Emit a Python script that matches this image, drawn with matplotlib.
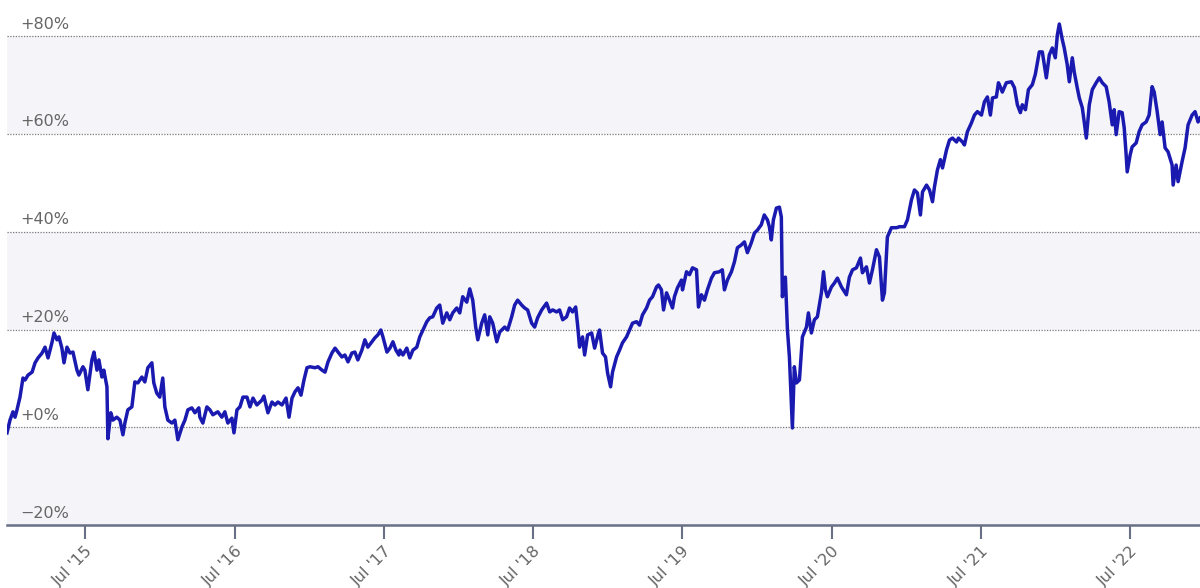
import numpy as np
import pandas as pd
import matplotlib
matplotlib.use("Agg")
import matplotlib.pyplot as plt
import matplotlib.dates as mdates
import matplotlib.transforms as mtransforms

# dates as fractional years, cumulative return in percent
years = [
    2014.971, 2014.991, 2015.011, 2015.025, 2015.038, 2015.058, 2015.078, 2015.092, 2015.112, 2015.139,
    2015.159, 2015.179, 2015.206, 2015.226, 2015.246, 2015.272, 2015.286, 2015.306, 2015.319, 2015.339,
    2015.353, 2015.373, 2015.393, 2015.413, 2015.440, 2015.453, 2015.480, 2015.493, 2015.513, 2015.540,
    2015.554, 2015.574, 2015.587, 2015.607, 2015.620, 2015.641, 2015.647, 2015.667, 2015.681, 2015.707,
    2015.728, 2015.748, 2015.761, 2015.781, 2015.808, 2015.828, 2015.848, 2015.875, 2015.895, 2015.915,
    2015.942, 2015.955, 2015.975, 2015.995, 2016.015, 2016.029, 2016.049, 2016.076, 2016.096, 2016.116,
    2016.143, 2016.163, 2016.183, 2016.209, 2016.230, 2016.256,
    2016.263, 2016.283, 2016.310, 2016.330, 2016.350, 2016.383, 2016.410, 2016.430, 2016.450, 2016.477,
    2016.491, 2016.511, 2016.531, 2016.551, 2016.578, 2016.598, 2016.618, 2016.644, 2016.678, 2016.691,
    2016.718, 2016.745, 2016.765, 2016.785, 2016.812, 2016.839, 2016.859, 2016.879, 2016.899, 2016.919,
    2016.939, 2016.959, 2016.979, 2016.999, 2017.033, 2017.053, 2017.080, 2017.100, 2017.120, 2017.146,
    2017.167, 2017.187, 2017.213, 2017.233, 2017.254, 2017.280, 2017.300, 2017.320, 2017.347, 2017.367,
    2017.387, 2017.414, 2017.434, 2017.454, 2017.474, 2017.488, 2017.515, 2017.535, 2017.555, 2017.575,
    2017.595,
    2017.602, 2017.622, 2017.648, 2017.668, 2017.689, 2017.715, 2017.735, 2017.756, 2017.782, 2017.802,
    2017.822, 2017.849, 2017.869, 2017.889, 2017.916, 2017.936, 2017.956, 2017.983, 2018.003, 2018.023,
    2018.050, 2018.070, 2018.090, 2018.110, 2018.124, 2018.150, 2018.170, 2018.191, 2018.204, 2018.224,
    2018.251, 2018.271, 2018.304, 2018.324, 2018.351, 2018.371, 2018.391, 2018.418, 2018.438, 2018.458,
    2018.485, 2018.505, 2018.525, 2018.552, 2018.585, 2018.606, 2018.626, 2018.652, 2018.672, 2018.693,
    2018.719, 2018.739, 2018.759, 2018.780, 2018.793, 2018.806, 2018.826, 2018.840, 2018.860, 2018.887,
    2018.907, 2018.933,
    2018.940, 2018.960, 2018.980, 2018.994, 2019.014, 2019.027, 2019.054, 2019.074, 2019.094, 2019.121,
    2019.141, 2019.161, 2019.188, 2019.208, 2019.228, 2019.255, 2019.275, 2019.295, 2019.322, 2019.335,
    2019.355, 2019.369, 2019.389, 2019.409, 2019.429, 2019.442, 2019.462, 2019.489, 2019.496, 2019.523,
    2019.543, 2019.563, 2019.590, 2019.603, 2019.623, 2019.643, 2019.663, 2019.690, 2019.710, 2019.743,
    2019.763, 2019.777, 2019.797, 2019.824, 2019.844, 2019.864, 2019.891, 2019.911, 2019.931, 2019.957,
    2019.978, 2019.998, 2020.024, 2020.044, 2020.065, 2020.078, 2020.091, 2020.105, 2020.125, 2020.145,
    2020.158, 2020.165, 2020.185, 2020.199, 2020.212, 2020.225, 2020.232, 2020.245, 2020.259, 2020.279,
    2020.299, 2020.326, 2020.339, 2020.359, 2020.379, 2020.399, 2020.426, 2020.440, 2020.453, 2020.466,
    2020.493, 2020.513, 2020.533, 2020.560, 2020.593, 2020.613, 2020.634, 2020.660, 2020.687, 2020.700,
    2020.727, 2020.747, 2020.767, 2020.794, 2020.814, 2020.834, 2020.847, 2020.867, 2020.894, 2020.928,
    2020.948,
    2020.981, 2021.001, 2021.028, 2021.048, 2021.068, 2021.088, 2021.102, 2021.129, 2021.149, 2021.169,
    2021.182, 2021.202, 2021.222, 2021.236, 2021.263, 2021.283, 2021.303, 2021.330, 2021.343, 2021.370,
    2021.383, 2021.403, 2021.430, 2021.450, 2021.470, 2021.497, 2021.517, 2021.537, 2021.557, 2021.571,
    2021.597, 2021.611,
    2021.617, 2021.637, 2021.664, 2021.698, 2021.718, 2021.738, 2021.758, 2021.771, 2021.792, 2021.812,
    2021.838, 2021.858, 2021.885, 2021.905, 2021.932, 2021.952, 2021.972, 2021.992, 2022.006, 2022.019,
    2022.039, 2022.052, 2022.072, 2022.086, 2022.106, 2022.119, 2022.139, 2022.153, 2022.173, 2022.186,
    2022.200, 2022.220, 2022.240, 2022.266, 2022.287, 2022.307, 2022.333, 2022.353, 2022.374, 2022.387,
    2022.400, 2022.420, 2022.440, 2022.454, 2022.467, 2022.474, 2022.494, 2022.507, 2022.534, 2022.554,
    2022.574, 2022.601, 2022.621, 2022.641, 2022.655, 2022.675, 2022.695, 2022.708, 2022.728, 2022.748,
    2022.775, 2022.782, 2022.802, 2022.815, 2022.842, 2022.862, 2022.882, 2022.909, 2022.929, 2022.949,
    2022.962,
]

returns = [
    -1.1, 1.5, 3.2, 2.1, 3.6, 6.2, 10.1, 9.7, 10.7, 11.3,
    13.2, 14.2, 15.2, 16.4, 14.2, 17.3, 19.3, 17.9, 18.5, 16.2,
    13.2, 16.4, 15.2, 15.4, 11.7, 10.7, 12.4, 11.7, 7.7, 13.8,
    15.4, 11.7, 13.8, 10.3, 11.7, 8.3, -2.3, 3.0, 1.5, 2.1,
    1.5, -1.5, 0.9, 3.6, 4.2, 9.3, 9.1, 10.3, 9.3, 12.2,
    13.2, 9.1, 7.0, 6.2, 10.1, 4.2, 1.5, 0.9, 1.5, -2.5,
    0.1, 1.5, 3.6, 4.0, 3.0, 4.0,
    2.1, 0.9, 4.2, 3.6, 2.6, 3.2, 2.1, 3.2, 0.9, 1.9,
    -1.1, 3.6, 4.2, 6.2, 6.2, 4.2, 6.0, 4.6, 5.6, 6.4,
    3.0, 5.2, 4.6, 5.2, 4.6, 6.0, 2.1, 6.0, 7.3, 8.1,
    6.6, 9.7, 12.2, 12.4, 12.2, 12.4, 11.7, 11.3, 13.4, 15.2,
    16.2, 15.4, 14.4, 14.8, 13.4, 15.2, 15.4, 13.8, 15.8, 17.9,
    16.4, 17.5, 18.3, 18.9, 19.9, 18.5, 15.4, 16.2, 17.5, 15.8,
    14.8,
    15.8, 14.8, 16.2, 14.2, 15.8, 16.4, 18.5, 19.9, 21.6, 22.4,
    22.6, 24.4, 25.0, 21.3, 23.4, 22.0, 23.4, 24.4, 23.4, 26.7,
    25.6, 28.3, 26.0, 20.5, 17.9, 21.3, 23.0, 18.9, 22.6, 21.3,
    17.5, 19.5, 20.5, 19.9, 22.6, 25.0, 26.0, 25.0, 24.4, 24.0,
    21.3, 20.5, 22.4, 24.0, 25.4, 23.6, 24.0, 23.6, 24.0, 22.0,
    22.6, 24.4, 23.6, 24.6, 20.9, 16.4, 18.5, 14.8, 18.9, 19.3,
    16.2, 19.3,
    19.9, 15.2, 14.4, 11.1, 8.3, 11.3, 14.4, 15.8, 17.3, 18.5,
    19.9, 21.3, 21.6, 20.9, 23.0, 24.4, 26.0, 26.7, 28.7, 29.1,
    28.1, 24.0, 27.5, 26.0, 24.4, 26.7, 28.5, 30.1, 28.1, 31.8,
    31.2, 32.6, 32.2, 24.6, 27.1, 26.0, 28.1, 30.5, 31.6, 31.8,
    32.2, 28.1, 30.1, 31.8, 33.8, 36.7, 37.3, 37.9, 35.7, 37.7,
    39.7, 40.3, 41.4, 43.4, 42.4, 41.0, 38.3, 42.4, 44.8, 45.0,
    43.0, 26.7, 30.7, 19.9, 14.4, 5.0, -0.1, 12.4, 9.1, 9.7,
    18.5, 20.5, 23.4, 19.3, 22.0, 22.6, 27.5, 31.8, 28.1, 26.7,
    28.7, 29.5, 30.5, 28.7, 27.1, 30.7, 32.2, 32.6, 34.6, 31.6,
    32.8, 29.5, 32.2, 36.3, 34.8, 26.0, 27.5, 38.9, 40.8, 40.8,
    41.0,
    41.0, 42.4, 46.5, 48.5, 47.9, 43.4, 48.1, 49.5, 48.5, 46.1,
    49.1, 52.6, 54.7, 53.0, 56.7, 58.7, 59.1, 58.3, 59.1, 58.3,
    57.7, 60.4, 62.2, 63.8, 64.5, 63.8, 66.5, 67.5, 63.8, 67.3,
    67.5, 70.4,
    70.0, 68.5, 70.4, 70.6, 69.4, 65.9, 64.3, 65.9, 64.9, 69.0,
    70.0, 72.1, 76.7, 76.7, 71.4, 76.1, 77.5, 75.5, 80.2, 82.4,
    79.2, 77.5, 74.1, 70.6, 75.5, 72.6, 69.4, 67.3, 65.3, 62.4,
    59.1, 65.9, 69.0, 70.4, 71.4, 70.4, 69.6, 66.5, 61.8, 64.9,
    59.8, 64.5, 64.3, 61.2, 55.7, 52.2, 55.7, 57.3, 58.1, 60.4,
    61.8, 62.4, 63.8, 69.6, 68.5, 64.5, 59.8, 62.4, 57.1, 56.3,
    53.6, 49.5, 53.6, 50.2, 54.3, 57.1, 61.8, 63.8, 64.5, 62.4,
    63.2,
]

y_levels = [-20, 0, 20, 40, 60, 80]
y_labels = ["\u221220%", "+0%", "+20%", "+40%", "+60%", "+80%"]
tick_years = list(range(2015, 2023))


def frac_to_date(t):
    year = int(np.floor(t))
    start = pd.Timestamp(year=year, month=1, day=1)
    end = pd.Timestamp(year=year + 1, month=1, day=1)
    return start + (end - start) * (t - year)


dates = [frac_to_date(t) for t in years]

fig = plt.figure(figsize=(12, 5.88), dpi=100)
ax = fig.add_axes([7 / 1200, 1 - 525.4 / 588, 1 - 7 / 1200, 525.4 / 588])
ax.set_facecolor("white")

ax.set_xlim(dates[0], dates[-1])
ax.set_ylim(-20, 87.3)

# alternating bands
band = "#f4f4f9"
for lo in (-20, 20, 60):
    ax.axhspan(lo, lo + 20, color=band, zorder=0, lw=0)

for lvl in y_levels[1:]:
    ax.axhline(lvl, color="#7a7a7a", lw=0.9, ls=(0, (1, 1.2)), zorder=1)

label_tf = mtransforms.blended_transform_factory(ax.transAxes, ax.transData)
for lvl, lab in zip(y_levels, y_labels):
    ax.annotate(lab, xy=(0.011, lvl), xycoords=label_tf, xytext=(0, 5.2),
                textcoords="offset points", ha="left", va="baseline",
                fontsize=11.5, color="#666666", zorder=2)

ax.plot(dates, returns, color="#1a1ab0", lw=2.5, zorder=3, solid_joinstyle="round")

for side in ("top", "right", "left"):
    ax.spines[side].set_visible(False)
ax.spines["bottom"].set_color("#677084")
ax.spines["bottom"].set_linewidth(1.8)
ax.spines["bottom"].set_zorder(4)

ax.set_yticks([])
ticks = [pd.Timestamp(year=y, month=7, day=1) for y in tick_years]
ax.set_xticks(ticks)
ax.set_xticklabels([f"Jul '{y % 100:02d}" for y in tick_years])
ax.tick_params(axis="x", length=10, width=1.5, color="#677084", pad=3,
               labelsize=11.5, labelcolor="#666666")
for lab in ax.get_xticklabels():
    lab.set_rotation(45)
    lab.set_ha("right")
    lab.set_va("top")
    lab.set_rotation_mode("anchor")

fig.savefig("out.png", dpi=100)
